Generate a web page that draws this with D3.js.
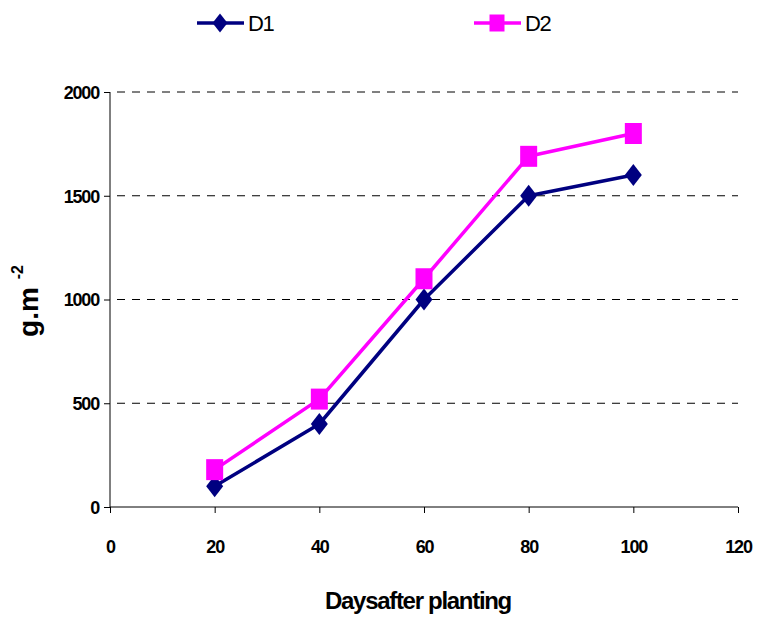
<!DOCTYPE html>
<html>
<head>
<meta charset="utf-8">
<script src="https://cdn.jsdelivr.net/npm/d3@7"></script>
<style>
  body { margin: 0; background: #fff; }
  text { font-family: "Liberation Sans", Arial, sans-serif; }
</style>
</head>
<body>
<script>
// data
var days = [20, 40, 60, 80, 100];
var d1 = [100, 400, 1000, 1500, 1600];
var d2 = [180, 520, 1100, 1690, 1800];
var seriesNames = ["D1", "D2"];
var xTicks = [0, 20, 40, 60, 80, 100, 120];
var yTicks = [0, 500, 1000, 1500, 2000];

var width = 757, height = 624;
var margin = {top: 92, right: 19, bottom: 117, left: 110};

var svg = d3.select("body").append("svg")
    .attr("width", width)
    .attr("height", height);

var x = d3.scaleLinear().domain([0, 120]).range([margin.left, width - margin.right]);
var y = d3.scaleLinear().domain([0, 2000]).range([height - margin.bottom, margin.top]);

var color = d3.scaleOrdinal().domain(seriesNames).range(["#000080", "#ff00ff"]);

// dashed gridlines
svg.append("g")
  .selectAll("line")
  .data(yTicks.filter(function(d) { return d > 0; }))
  .enter().append("line")
    .attr("x1", x(0) + 7)
    .attr("x2", x(120))
    .attr("y1", function(d) { return y(d); })
    .attr("y2", function(d) { return y(d); })
    .attr("stroke", "#000")
    .attr("stroke-width", 1)
    .attr("stroke-dasharray", "8,7");

// x axis
var xAxis = svg.append("g")
    .attr("transform", "translate(0," + y(0) + ")")
    .call(d3.axisBottom(x).tickValues(xTicks).tickSize(6).tickPadding(27));
xAxis.select(".domain").attr("stroke", "#000").attr("d", "M" + x(0) + ",0H" + x(120));
xAxis.selectAll("text")
    .attr("fill", "#000")
    .style("font-size", "18px")
    .style("font-weight", "bold")
    .style("letter-spacing", "-1.2px");

// y axis
var yAxis = svg.append("g")
    .attr("transform", "translate(" + x(0) + ",0)")
    .call(d3.axisLeft(y).tickValues(yTicks).tickFormat(d3.format("d")).tickSize(6).tickPadding(5));
yAxis.select(".domain").attr("stroke", "#000").attr("d", "M0," + y(0) + "V" + y(2000));
yAxis.selectAll("text")
    .attr("fill", "#000")
    .attr("dy", "0.35em")
    .style("font-size", "18px")
    .style("font-weight", "bold")
    .style("letter-spacing", "-1.2px");

// axis titles
svg.append("text")
    .attr("x", 418)
    .attr("y", 609)
    .attr("text-anchor", "middle")
    .style("font-size", "24px")
    .style("font-weight", "bold")
    .style("letter-spacing", "-1.3px")
    .text("Daysafter planting");

var yt = svg.append("text")
    .attr("transform", "translate(38,301) rotate(-90)")
    .attr("text-anchor", "middle")
    .style("font-size", "28px")
    .style("font-weight", "bold");
yt.append("tspan").text("g.m ");
yt.append("tspan").attr("dy", -15).style("font-size", "16px").text("-2");

// lines and markers
var series = [
  {name: "D1", values: d1},
  {name: "D2", values: d2}
];

var line = d3.line()
    .x(function(d, i) { return x(days[i]); })
    .y(function(d) { return y(d); });

function diamond(w, h) {
  return "M0," + (-h / 2) + "L" + (w / 2) + ",0L0," + (h / 2) + "L" + (-w / 2) + ",0Z";
}
function square(w, h) {
  return "M" + (-w / 2) + "," + (-h / 2) + "h" + w + "v" + h + "h" + (-w) + "Z";
}

series.forEach(function(s) {
  svg.append("path")
      .datum(s.values)
      .attr("fill", "none")
      .attr("stroke", color(s.name))
      .attr("stroke-width", 3.5)
      .attr("stroke-linejoin", "round")
      .attr("d", line);

  svg.append("g").selectAll("path")
      .data(s.values)
      .enter().append("path")
      .attr("transform", function(d, i) { return "translate(" + x(days[i]) + "," + y(d) + ")"; })
      .attr("fill", color(s.name))
      .attr("d", s.name === "D1" ? diamond(17, 22) : square(17, 21));
});

// legend
var legendX = [197, 474];
var lg = svg.append("g")
  .selectAll("g")
  .data(series)
  .enter().append("g")
    .attr("transform", function(d, i) { return "translate(" + legendX[i] + ",23)"; });

lg.append("line")
    .attr("x1", 0).attr("x2", 47)
    .attr("stroke", function(d) { return color(d.name); })
    .attr("stroke-width", 3.5);

lg.append("path")
    .attr("transform", "translate(23,0)")
    .attr("fill", function(d) { return color(d.name); })
    .attr("d", function(d) { return d.name === "D1" ? diamond(15, 19) : square(15, 17); });

lg.append("text")
    .attr("x", 51)
    .attr("dy", "0.35em")
    .style("font-size", "22px")
    .style("letter-spacing", "-1.5px")
    .text(function(d) { return d.name; });
</script>
</body>
</html>
